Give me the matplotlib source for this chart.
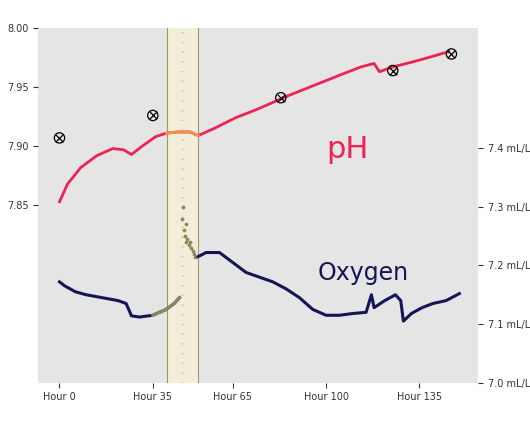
import matplotlib
matplotlib.use("Agg")
import matplotlib.pyplot as plt

# pH series (hours, value)
ph_hours = [0, 3, 8, 14, 20, 24, 27, 31, 36, 40, 44, 49, 52, 58, 66, 75, 85, 95, 105, 113, 118, 120, 125, 132, 140, 146]
ph_vals = [7.853, 7.868, 7.882, 7.892, 7.898, 7.897, 7.893, 7.900, 7.908, 7.911, 7.912, 7.912, 7.909, 7.915, 7.924, 7.932, 7.942, 7.951, 7.960, 7.967, 7.970, 7.963, 7.967, 7.971, 7.976, 7.980]
# sample markers
mark_hours = [0, 35, 83, 125, 147]
mark_vals = [7.907, 7.926, 7.941, 7.964, 7.978]

# oxygen series (hours, mL/L)
ox_hours = [0, 2, 6, 10, 16, 22, 25, 27, 30, 35, 40, 43, 45]
ox_vals = [7.172, 7.165, 7.155, 7.150, 7.145, 7.140, 7.135, 7.114, 7.112, 7.115, 7.125, 7.135, 7.145]
# scattered readings inside the shaded window
band_hours = [46, 46.3, 46.6, 47, 47.3, 47.6, 48, 48.5, 49, 49.5, 50, 50.5, 51]
band_vals = [7.28, 7.30, 7.26, 7.25, 7.27, 7.24, 7.245, 7.235, 7.24, 7.23, 7.225, 7.22, 7.215]
ox2_hours = [52, 55, 60, 65, 70, 75, 80, 85, 90, 95, 100, 105, 110, 115, 117, 118, 122, 126, 128, 129, 132, 136, 140, 145, 150]
ox2_vals = [7.215, 7.222, 7.222, 7.205, 7.188, 7.180, 7.172, 7.160, 7.145, 7.125, 7.115, 7.115, 7.118, 7.120, 7.150, 7.128, 7.140, 7.150, 7.140, 7.105, 7.118, 7.128, 7.135, 7.140, 7.152]

band = (40.5, 52)

fig, ax = plt.subplots(figsize=(5.3, 4.3), dpi=100)
fig.subplots_adjust(left=0.072, right=0.902, top=0.935, bottom=0.11)
ax.set_facecolor("#e5e5e5")
ax2 = ax.twinx()

ax.axvspan(band[0], band[1], color="#f5f0d8", alpha=0.9, zorder=0)
ax.axvline(band[0], color="#9a9a60", lw=0.8)
ax.axvline(band[1], color="#9a9a60", lw=0.8)
ax.axvline(46, color="#f0a060", lw=1, ls=(0, (1, 6)))

ax.plot(ph_hours, ph_vals, color="#ee2255", lw=2)
seg = [(h, v) for h, v in zip(ph_hours, ph_vals) if band[0] - 1 <= h <= band[1]]
ax.plot([s[0] for s in seg], [s[1] for s in seg], color="#f09050", lw=2)
ax.scatter(mark_hours, mark_vals, marker="o", s=55, facecolor="none", edgecolor="black", lw=0.9, zorder=5)
ax.scatter(mark_hours, mark_vals, marker="x", s=30, color="black", lw=0.9, zorder=5)

ax2.plot(ox_hours, ox_vals, color="#151555", lw=2.2)
ax2.plot(ox_hours[-4:], ox_vals[-4:], color="#8a8a60", lw=2.2)
ax2.scatter(band_hours, band_vals, color="#8a8a60", s=3)
ax2.plot(ox2_hours, ox2_vals, color="#151555", lw=2.2)

ax.text(100, 7.89, "pH", color="#ee2255", fontsize=22)
ax2.text(97, 7.175, "Oxygen", color="#151555", fontsize=17)

ax.set_xlim(-8, 157)
ax.set_ylim(7.70, 8.00)
ax.set_yticks([7.85, 7.90, 7.95, 8.00])
ax.set_yticklabels(["7.85", "7.90", "7.95", "8.00"])
ax2.set_ylim(7.0, 7.605)
ax2.set_yticks([7.0, 7.1, 7.2, 7.3, 7.4])
ax2.set_yticklabels([f"{v:.1f} mL/L" for v in [7.0, 7.1, 7.2, 7.3, 7.4]])
ax.set_xticks([0, 35, 65, 100, 135])
ax.set_xticklabels([f"Hour {h}" for h in [0, 35, 65, 100, 135]])
for a in (ax, ax2):
    a.tick_params(labelsize=7, colors="#333333")
    for s in a.spines.values():
        s.set_visible(False)

fig.savefig("out.png")
